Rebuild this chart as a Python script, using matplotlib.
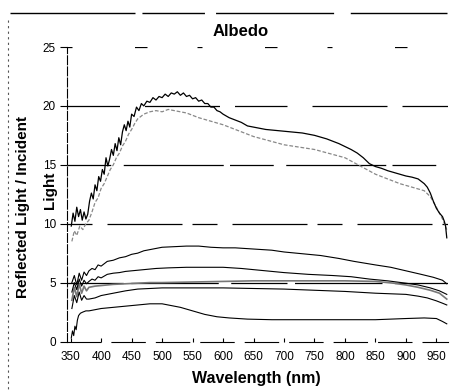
import matplotlib
matplotlib.use("Agg")
from matplotlib import pyplot as plt
from matplotlib.lines import Line2D

plt.rcParams["font.family"] = ["Liberation Sans", "DejaVu Sans"]

# top curve (black) and its lighter companion
wl_top = [351, 354, 357, 360, 363, 366, 369, 372, 375, 378, 381, 384, 387, 390,
          393, 396, 399, 402, 405, 408, 411, 414, 417, 420, 423, 426, 429, 432,
          435, 438, 441, 444, 447, 450, 454, 458, 462, 466, 470, 475, 480, 485,
          490, 495, 500, 505, 510, 515, 520, 525, 530, 535, 540, 545, 550, 555,
          560, 565, 570, 575, 580, 585, 590, 595, 600, 610, 620, 630, 640, 650,
          660, 670, 680, 690, 700, 710, 720, 730, 740, 750, 760, 770, 780, 790,
          800, 810, 820, 830, 840, 850, 860, 870, 880, 890, 900, 910, 920, 925,
          930, 935, 940, 945, 950, 955, 960, 963, 965, 967]
albedo_top = [9.8, 10.9, 10.2, 11.4, 10.6, 11.2, 10.3, 11.0, 10.4, 10.8, 11.9, 12.6,
              12.1, 13.3, 12.8, 14.0, 13.6, 14.6, 14.2, 15.6, 14.9, 15.5, 16.3, 15.8,
              16.8, 16.2, 17.3, 16.7, 17.8, 18.4, 17.9, 18.7, 18.2, 19.3, 19.1, 19.9,
              19.6, 20.2, 20.0, 20.4, 20.3, 20.7, 20.5, 20.8, 20.7, 21.0, 20.8, 21.1,
              21.0, 21.2, 20.9, 21.1, 20.8, 20.9, 20.6, 20.7, 20.4, 20.5, 20.2, 20.2,
              19.9, 19.9, 19.6, 19.5, 19.3, 19.0, 18.8, 18.6, 18.3, 18.2, 18.1, 18.0,
              17.95, 17.9, 17.85, 17.8, 17.75, 17.7, 17.6, 17.5, 17.35, 17.2, 17.0,
              16.8, 16.55, 16.3, 16.0, 15.6, 15.1, 14.85, 14.7, 14.5, 14.35, 14.2,
              14.05, 13.95, 13.8, 13.6, 13.4, 13.1, 12.6, 11.9, 11.3, 10.9, 10.6,
              10.2, 9.8, 8.8]

wl_top2 = [352, 356, 360, 365, 370, 375, 380, 385, 390, 395, 400, 405, 410, 415,
           420, 425, 430, 435, 440, 445, 450, 455, 460, 470, 480, 490, 500, 510,
           520, 530, 540, 550, 560, 580, 600, 650, 700, 750, 800, 850, 890, 910,
           930, 940, 950, 960, 967]
albedo_top2 = [8.5, 9.4, 9.0, 9.8, 9.5, 10.0, 10.3, 11.0, 11.8, 12.2, 13.0, 13.4,
               14.0, 14.6, 15.0, 15.6, 16.0, 16.6, 17.0, 17.6, 18.0, 18.5, 18.9,
               19.3, 19.5, 19.6, 19.5, 19.7, 19.6, 19.5, 19.4, 19.2, 19.0, 18.7,
               18.4, 17.4, 16.7, 16.3, 15.6, 14.2, 13.4, 13.1, 12.8, 12.3, 11.4,
               10.4, 9.5]

# lower group of curves
wl_b = [352, 356, 360, 364, 368, 372, 376, 380, 385, 390, 395, 400, 410, 420, 430,
        440, 450, 460, 470, 480, 490, 500, 520, 540, 560, 580, 600, 620, 650, 680,
        700, 730, 760, 790, 815, 850, 875, 900, 925, 945, 960, 967]
albedo_b = [5.0, 5.6, 4.8, 5.8, 5.2, 5.9, 5.6, 6.0, 6.2, 6.1, 6.5, 6.4, 6.8, 6.9,
            7.1, 7.2, 7.4, 7.5, 7.7, 7.8, 7.9, 8.0, 8.05, 8.1, 8.1, 8.0, 7.95, 7.95,
            7.85, 7.75, 7.6, 7.45, 7.3, 7.05, 6.8, 6.5, 6.3, 6.0, 5.7, 5.45, 5.2, 4.9]

wl_c = [352, 356, 360, 364, 368, 372, 376, 380, 385, 390, 395, 400, 410, 420, 430,
        440, 450, 470, 490, 510, 540, 570, 600, 630, 660, 700, 740, 780, 810, 840,
        870, 900, 920, 940, 955, 967]
albedo_c = [4.2, 5.0, 4.4, 5.3, 4.7, 5.2, 4.9, 5.1, 5.3, 5.2, 5.5, 5.4, 5.7, 5.8,
            5.85, 5.95, 6.0, 6.1, 6.2, 6.25, 6.3, 6.3, 6.3, 6.2, 6.05, 5.85, 5.7,
            5.6, 5.5, 5.3, 5.15, 4.95, 4.8, 4.55, 4.3, 4.0]

wl_e = [352, 356, 360, 364, 368, 372, 376, 380, 390, 400, 420, 440, 460, 480, 500,
        550, 600, 650, 700, 750, 800, 850, 880, 900, 920, 940, 955, 967]
albedo_e = [3.5, 4.6, 3.8, 4.9, 4.1, 4.7, 4.3, 4.6, 4.7, 4.75, 4.85, 4.9, 4.95,
            5.0, 5.0, 5.05, 5.1, 5.15, 5.15, 5.15, 5.15, 5.1, 4.95, 4.8, 4.6, 4.35,
            4.1, 3.6]

wl_d = [352, 356, 360, 364, 368, 372, 376, 380, 390, 400, 420, 440, 460, 480, 500,
        550, 600, 650, 700, 750, 800, 850, 900, 920, 935, 950, 960, 967]
albedo_d = [2.8, 3.9, 3.3, 4.2, 3.5, 3.9, 3.6, 3.6, 3.7, 3.9, 4.1, 4.3, 4.45, 4.5,
            4.55, 4.55, 4.55, 4.5, 4.45, 4.35, 4.25, 4.1, 4.0, 3.85, 3.7, 3.45,
            3.25, 3.1]

wl_f = [351, 353, 355, 357, 359, 361, 363, 366, 370, 375, 380, 390, 400, 420, 440,
        460, 480, 500, 510, 530, 550, 570, 590, 610, 640, 680, 750, 800, 850, 900,
        930, 950, 960, 967]
albedo_f = [0.3, 0.9, 0.5, 1.3, 1.0, 1.8, 2.2, 2.4, 2.5, 2.6, 2.6, 2.7, 2.8, 2.9,
            3.0, 3.1, 3.2, 3.2, 3.1, 2.9, 2.6, 2.3, 2.1, 2.0, 1.9, 1.85, 1.85, 1.85,
            1.85, 1.95, 2.0, 1.95, 1.7, 1.5]

x_ticks = list(range(350, 951, 50))
y_ticks = [0, 5, 10, 15, 20, 25]

W, H = 470, 390
fig = plt.figure(figsize=(4.7, 3.9), dpi=100)
ax = fig.add_axes([67 / W, 1 - 341.5 / H, (448 - 67) / W, (341.5 - 47) / H])

# broken-looking gridlines, like the scanned original
grid_dash = {5: (0, (45, 6, 70, 10)), 10: (0, (20, 12, 60, 8)),
             15: (0, (35, 10, 80, 5)), 20: (0, (42, 20, 60, 12))}
for yv, dash in grid_dash.items():
    ax.axhline(yv, color="black", lw=0.9, linestyle=dash, zorder=1)
ax.axhline(25, color="black", lw=0.9, linestyle=(0, (4, 50, 10, 40)), zorder=1)

ax.plot(wl_top2, albedo_top2, color="#888888", lw=0.9, linestyle=(0, (3, 1.5)), zorder=2)
ax.plot(wl_top, albedo_top, color="black", lw=0.9, zorder=3)
ax.plot(wl_b, albedo_b, color="black", lw=0.8, zorder=3)
ax.plot(wl_c, albedo_c, color="black", lw=0.8, zorder=3)
ax.plot(wl_e, albedo_e, color="#777777", lw=1.2, zorder=2)
ax.plot(wl_d, albedo_d, color="black", lw=0.8, zorder=3)
ax.plot(wl_f, albedo_f, color="black", lw=0.8, zorder=3)

ax.set_xlim(344, 969)
ax.set_ylim(0, 25)
ax.set_xticks(x_ticks)
ax.set_yticks(y_ticks)
ax.tick_params(axis="x", direction="in", length=3, width=0.8, pad=7, labelsize=8.5)
ax.tick_params(axis="y", direction="out", length=5, width=0.8, pad=3, labelsize=8.5)

for side in ("top", "right"):
    ax.spines[side].set_visible(False)
ax.spines["left"].set_linewidth(0.8)
ax.spines["left"].set_linestyle((0, (8, 2)))
ax.spines["bottom"].set_linewidth(0.8)
ax.spines["bottom"].set_linestyle((0, (30, 10)))
ax.patch.set_alpha(0)

fig.text(241 / W, 1 - 31 / H, "Albedo", ha="center", va="center",
         fontsize=12, fontweight="bold")
# y label is two separately placed lines in the original
fig.text(23 / W, 1 - 207 / H, "Reflected Light / Incident", ha="center",
         va="center", rotation=90, fontsize=11, fontweight="bold")
fig.text(50 / W, 1 - 190 / H, "Light", ha="center", va="center", rotation=90,
         fontsize=11, fontweight="bold")
fig.text(256 / W, 1 - 378 / H, "Wavelength (nm)", ha="center", va="center",
         fontsize=11.5, fontweight="bold")

# outer chart frame, only partly visible in the scan
fig.add_artist(Line2D([10 / W, 447 / W], [1 - 13 / H, 1 - 13 / H], color="black",
                      lw=1.0, linestyle=(0, (90, 5, 45, 8, 85, 12)),
                      transform=fig.transFigure))
fig.add_artist(Line2D([8 / W, 8 / W], [1 - 20 / H, 0], color="#555555",
                      lw=0.8, linestyle=(0, (2, 3)), transform=fig.transFigure))

fig.savefig("out.png", dpi=100)
